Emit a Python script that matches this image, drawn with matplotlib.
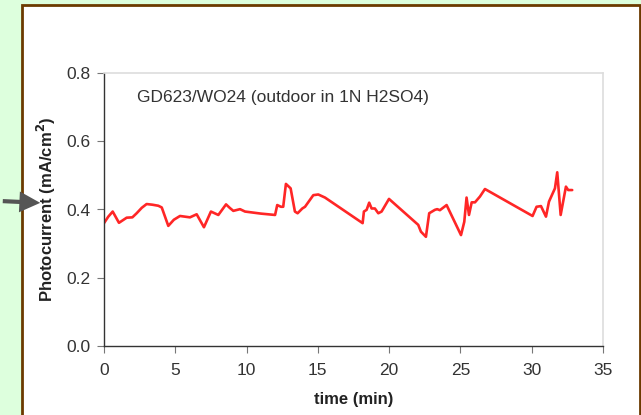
import matplotlib
matplotlib.use("Agg")
import matplotlib.pyplot as plt
from matplotlib.patches import Rectangle, FancyArrowPatch

plt.rcParams['font.family'] = ['Liberation Sans', 'DejaVu Sans']

# 数据 (time in min, photocurrent mA/cm2)
time_min = [0, 0.3, 0.61, 1.05, 1.59, 1.99, 2.29, 2.65, 2.99, 3.4, 3.81, 4.05, 4.51, 4.9,
            5.33, 6.03, 6.5, 7.01, 7.5, 8.02, 8.56, 8.84, 9.07, 9.54, 9.89, 11.0, 12.0,
            12.15, 12.41, 12.57, 12.76, 13.09, 13.39, 13.58, 13.91, 14.1, 14.68, 15.03,
            15.5, 18.14, 18.23, 18.42, 18.6, 18.77, 19.0, 19.24, 19.47, 19.99, 22.04,
            22.23, 22.58, 22.81, 23.21, 23.37, 23.56, 24.03, 25.04, 25.27, 25.43, 25.6,
            25.79, 26.02, 26.37, 26.72, 30.06, 30.34, 30.65, 31.0, 31.21, 31.63, 31.79,
            32.03, 32.4, 32.56, 32.84]
photocurrent = [0.360, 0.379, 0.394, 0.361, 0.376, 0.377, 0.389, 0.405, 0.416, 0.414, 0.411,
                0.406, 0.352, 0.370, 0.381, 0.377, 0.386, 0.348, 0.394, 0.384, 0.415, 0.404,
                0.396, 0.401, 0.394, 0.388, 0.384, 0.413, 0.408, 0.408, 0.475, 0.462, 0.394,
                0.389, 0.403, 0.408, 0.442, 0.444, 0.435, 0.360, 0.394, 0.399, 0.420, 0.403,
                0.403, 0.389, 0.394, 0.431, 0.355, 0.335, 0.320, 0.389, 0.399, 0.401, 0.398,
                0.413, 0.325, 0.364, 0.435, 0.384, 0.421, 0.421, 0.438, 0.460, 0.381, 0.408,
                0.410, 0.379, 0.423, 0.462, 0.509, 0.384, 0.467, 0.457, 0.457]
x_ticks = [0, 5, 10, 15, 20, 25, 30, 35]
y_ticks = [0.0, 0.2, 0.4, 0.6, 0.8]
W, H = 641, 415

fig = plt.figure(figsize=(W / 100, H / 100), dpi=100)
fig.patch.set_facecolor('#ddffdd')

# 白色面板 + 棕色边框
fig.patches.append(Rectangle((22 / W, -0.05), 618 / W, (H - 5) / H + 0.05,
                             transform=fig.transFigure, facecolor='white',
                             edgecolor='#6b3a00', linewidth=2, zorder=-5))

ax = fig.add_axes([104 / W, (H - 346) / H, 499 / W, 273 / H])
ax.plot(time_min, photocurrent, color='#ff2626', linewidth=1.9,
        solid_joinstyle='round', solid_capstyle='round')

ax.set_xlim(0, 35)
ax.set_ylim(0, 0.8)
ax.set_xticks(x_ticks)
ax.set_yticks(y_ticks)
ax.set_yticklabels(['%.1f' % v for v in y_ticks])
ax.tick_params(direction='out', length=5, color='#777777', labelsize=12.5,
               labelcolor='#333333')
ax.tick_params(axis='x', pad=7)
ax.tick_params(axis='y', pad=5)
for s in ['top', 'right']:
    ax.spines[s].set_color('#dddddd')
    ax.spines[s].set_linewidth(1.2)
for s in ['left', 'bottom']:
    ax.spines[s].set_color('#333333')
    ax.spines[s].set_linewidth(1)

ax.set_xlabel('time (min)', fontsize=12, fontweight='bold', color='#222222', labelpad=10)
ax.set_ylabel('Photocurrent (mA/cm$^\\mathbf{2}$)', fontsize=12, fontweight='bold',
              color='#222222', labelpad=6)
ax.text(0.066, 0.912, 'GD623/WO24 (outdoor in 1N H2SO4)', transform=ax.transAxes,
        fontsize=12.5, color='#333333', va='center')

# 箭头
fig.add_artist(FancyArrowPatch(
    (0, 1 - 201 / H), (43 / W, 1 - 203 / H), transform=fig.transFigure,
    arrowstyle='simple,head_length=1.5,head_width=1.5,tail_width=0.3',
    mutation_scale=10, color='#555555', linewidth=0, zorder=5))

fig.savefig('out.png', dpi=100, facecolor=fig.get_facecolor())
